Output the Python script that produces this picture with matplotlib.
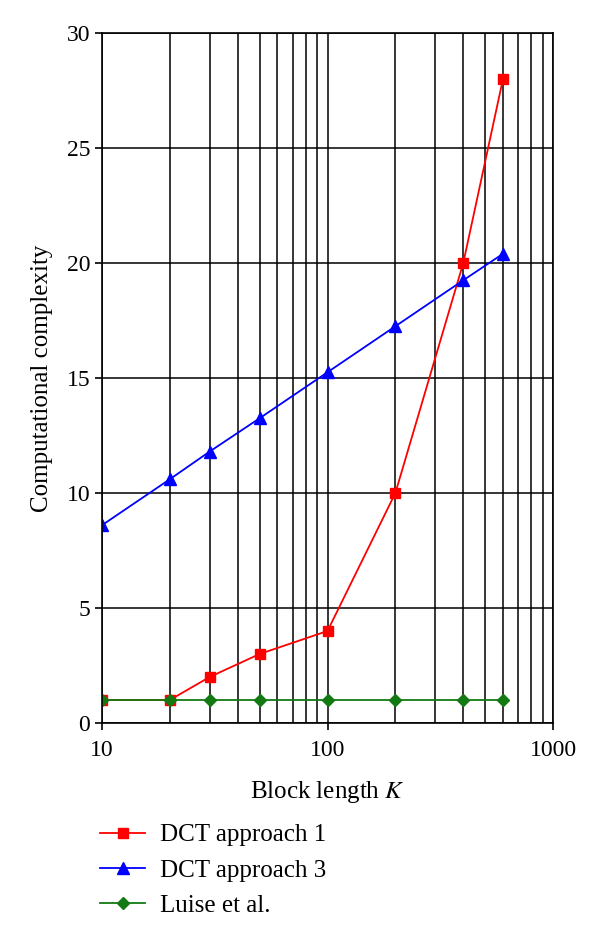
import numpy as np
import matplotlib.pyplot as plt
from matplotlib.ticker import LogLocator, NullFormatter

plt.rcParams['font.family'] = ['Liberation Serif', 'DejaVu Serif']
plt.rcParams['mathtext.fontset'] = 'stix'

# block lengths K
k = [10, 20, 30, 50, 100, 200, 400, 600]
dct1 = [1, 1, 2, 3, 4, 10, 20, 28]
dct3 = [8.6, 10.6, 11.8, 13.25, 15.25, 17.25, 19.25, 20.4]
luise = [1, 1, 1, 1, 1, 1, 1, 1]

fig = plt.figure(figsize=(6, 9.34), dpi=100)
ax = fig.add_axes([102 / 600, 1 - 723 / 934, 451 / 600, 690 / 934])

ax.plot(k, dct1, 'rs-', lw=1.3, ms=7, label='DCT approach 1')
ax.plot(k, dct3, 'b^-', lw=1.3, ms=8, label='DCT approach 3')
ax.plot(k, luise, 'D-', color='#137a13', lw=1.3, ms=6, label='Luise et al.')

ax.set_xscale('log')
ax.set_xlim(10, 1000)
ax.set_ylim(0, 30)
ax.set_yticks(np.arange(0, 31, 5))
ax.set_xticks([10, 100, 1000])
ax.set_xticklabels(['10', '100', '1000'])
ax.xaxis.set_minor_locator(LogLocator(base=10, subs=np.arange(2, 10)))
ax.xaxis.set_minor_formatter(NullFormatter())
ax.tick_params(axis='x', which='minor', length=0)
ax.tick_params(axis='both', which='major', labelsize=17, length=5, width=1.2, direction='out')
ax.tick_params(axis='x', which='major', pad=7)

ax.grid(True, which='both', axis='x', color='black', lw=1.1)
ax.grid(True, which='major', axis='y', color='black', lw=1.1)
ax.set_axisbelow(True)
for s in ax.spines.values():
    s.set_linewidth(1.2)

ax.set_xlabel('Block length $K$', fontsize=18, labelpad=13)
ax.set_ylabel('Computational complexity', fontsize=18, labelpad=10)

fig.legend(loc='upper left', bbox_to_anchor=(100 / 600, 1 - 824 / 934), frameon=False,
           fontsize=18, handlelength=1.8, handletextpad=0.6, labelspacing=0.5,
           borderpad=0, borderaxespad=0)

fig.savefig('out.png', dpi=100)
